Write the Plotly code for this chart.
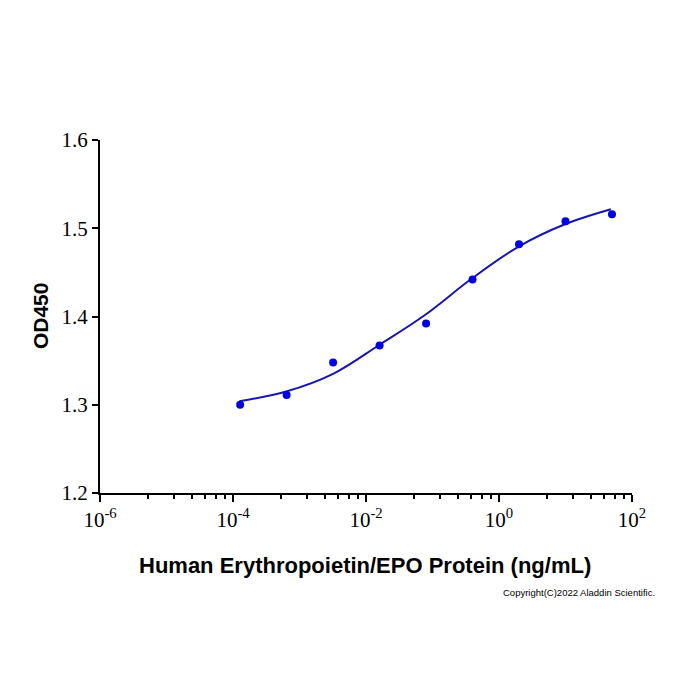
import plotly.graph_objects as go

# Measured points
conc = [0.000128, 0.00064, 0.0032, 0.016, 0.08, 0.4, 2, 10, 50]
od450 = [1.300, 1.311, 1.348, 1.367, 1.392, 1.442, 1.482, 1.508, 1.516]

# Fitted curve
fit_conc = [0.000125, 0.00063, 0.0032, 0.016, 0.078, 0.39, 1.95, 9.8, 48]
fit_od = [1.304, 1.315, 1.335, 1.368, 1.402, 1.443, 1.479, 1.5045, 1.5215]

x_tickvals = [1e-6, 1e-4, 1e-2, 1, 100]
x_ticktext = ["10<sup>-6</sup>", "10<sup>-4</sup>", "10<sup>-2</sup>", "10<sup>0</sup>", "10<sup>2</sup>"]
y_tickvals = [1.2, 1.3, 1.4, 1.5, 1.6]
y_ticktext = ["1.2", "1.3", "1.4", "1.5", "1.6"]

# minor tick fractions within each two-decade interval
minor_frac = [0.363, 0.554, 0.689, 0.792, 0.872, 0.942]
minor_vals = []
for start in [-6, -4, -2, 0]:
    for f in minor_frac:
        minor_vals.append(10 ** (start + 2 * f))

fig = go.Figure()
fig.add_trace(go.Scatter(x=fit_conc, y=fit_od, mode="lines",
                         line=dict(color="#1616b0", width=2, shape="spline"),
                         hoverinfo="skip", showlegend=False))
fig.add_trace(go.Scatter(x=conc, y=od450, mode="markers",
                         marker=dict(color="#0000e6", size=8),
                         showlegend=False))

axis_font = dict(family="Liberation Serif, Times New Roman, serif", size=21, color="black")

fig.update_layout(
    width=700, height=700,
    margin=dict(l=100, r=68, t=140, b=207),
    paper_bgcolor="white", plot_bgcolor="white",
    xaxis=dict(type="log", range=[-6, 2], showgrid=False, zeroline=False,
               showline=True, linecolor="black", linewidth=2,
               ticks="outside", ticklen=7, tickwidth=2, tickcolor="black",
               tickmode="array", tickvals=x_tickvals, ticktext=x_ticktext,
               tickfont=axis_font,
               minor=dict(tickmode="array", tickvals=minor_vals, ticks="outside",
                          ticklen=4, tickwidth=2, tickcolor="black", showgrid=False)),
    yaxis=dict(range=[1.2, 1.6], showgrid=False, zeroline=False,
               showline=True, linecolor="black", linewidth=2,
               ticks="outside", ticklen=6, tickwidth=2, tickcolor="black",
               tickmode="array", tickvals=y_tickvals, ticktext=y_ticktext,
               tickfont=axis_font),
    annotations=[
        dict(text="<b>OD450</b>", xref="paper", yref="paper", x=-0.1128, y=0.504,
             textangle=-90, showarrow=False, xanchor="center", yanchor="middle",
             font=dict(family="Liberation Sans, Arial, sans-serif", size=21, color="black")),
        dict(text="<b>Human Erythropoietin/EPO Protein (ng/mL)</b>", xref="paper", yref="paper",
             x=0.498, y=-0.204, showarrow=False, xanchor="center", yanchor="middle",
             font=dict(family="Liberation Sans, Arial, sans-serif", size=22, color="black")),
        dict(text="Copyright(C)2022 Aladdin Scientific.", xref="paper", yref="paper",
             x=1.047, y=-0.2805, showarrow=False, xanchor="right", yanchor="middle",
             font=dict(family="Liberation Sans, Arial, sans-serif", size=9.5, color="black")),
    ],
)

fig.write_html("out.html")
